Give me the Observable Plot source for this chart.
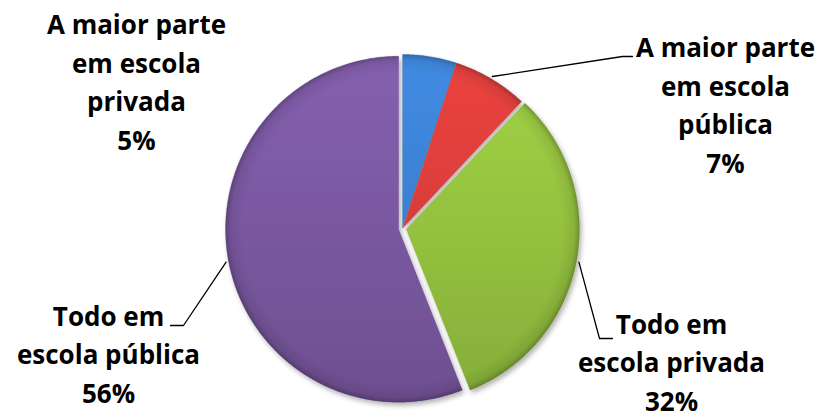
<!DOCTYPE html>
<html><head><meta charset="utf-8">
<script src="https://cdn.jsdelivr.net/npm/d3@7"></script>
<script src="https://cdn.jsdelivr.net/npm/@observablehq/plot@0.6"></script>
<style>body{margin:0;background:#fff}</style>
</head><body><div id="chart"></div>
<script>
// ---- data ----
const categories = ["A maior parte em escola privada", "A maior parte em escola pública", "Todo em escola privada", "Todo em escola pública"];
const labelLines = [["A maior parte", "em escola", "privada"], ["A maior parte", "em escola", "pública"], ["Todo em", "escola privada"], ["Todo em", "escola pública"]];
const values = [5, 7, 32, 56];
const colors = ["#3b7fd0", "#d83d3a", "#94c13f", "#7a58a0"];

// ---- layout (pixels) ----
const W = 825, H = 419, CX = 402, CY = 228, R = 173;
const explodePx = [1, 1, 4, 4];
const labelAnchorPx = [[136, 149], [725, 172], [671, 410], [108, 402]]; // centre x, last baseline
const leaderKneesPx = [null, [[622, 56], [632, 56]], [[599, 338], [612, 338]], [[183, 325], [170, 325]]];
const fontFamily = "'Open Sans', Lato, sans-serif";

const ux = px => (px - CX) / R, uy = py => (CY - py) / R;

const arcs = d3.pie().sort(null).value(d => d)(values);
const offs = arcs.map((a, i) => {
  const m = (a.startAngle + a.endAngle) / 2, e = explodePx[i] / R;
  return [Math.sin(m) * e, Math.cos(m) * e];
});

function slicePoints(i) {
  const a = arcs[i], [ox, oy] = offs[i];
  const pts = [{x: ox, y: oy}];
  const n = Math.max(2, Math.ceil((a.endAngle - a.startAngle) / (Math.PI / 360)));
  for (let k = 0; k <= n; k++) {
    const t = a.startAngle + (a.endAngle - a.startAngle) * k / n;
    pts.push({x: ox + Math.sin(t), y: oy + Math.cos(t)});
  }
  pts.push({x: ox, y: oy});
  return pts;
}

const labelData = categories.map((c, i) => ({
  x: ux(labelAnchorPx[i][0]), y: uy(labelAnchorPx[i][1]),
  text: labelLines[i].join("\n") + "\n" + values[i] + "%"
}));

const leaderData = [];
arcs.forEach((a, i) => {
  if (!leaderKneesPx[i]) return;
  const m = (a.startAngle + a.endAngle) / 2, [ox, oy] = offs[i];
  leaderData.push({k: i, x: ox + Math.sin(m) * 1.015, y: oy + Math.cos(m) * 1.015});
  leaderKneesPx[i].forEach(([px, py]) => leaderData.push({k: i, x: ux(px), y: uy(py)}));
});

function shade(c, k) { return d3.color(c)[k > 0 ? "brighter" : "darker"](Math.abs(k)).formatHex(); }

const defsMark = (index, scales) => {
  const defs = d3.create("svg:defs");
  colors.forEach((c, i) => {
    const g = defs.append("linearGradient").attr("id", "grad" + i)
      .attr("gradientUnits", "userSpaceOnUse")
      .attr("y1", scales.y(1)).attr("y2", scales.y(-1)).attr("x1", 0).attr("x2", 0);
    g.append("stop").attr("offset", 0).attr("stop-color", shade(c, 0.25));
    g.append("stop").attr("offset", 0.5).attr("stop-color", c);
    g.append("stop").attr("offset", 1).attr("stop-color", shade(c, -0.3));
    const cxp = scales.x(offs[i][0]), cyp = scales.y(offs[i][1]), rp = scales.x(1) - scales.x(0);
    const rg = defs.append("radialGradient").attr("id", "rim" + i).attr("gradientUnits", "userSpaceOnUse")
      .attr("cx", cxp).attr("cy", cyp).attr("r", rp);
    rg.append("stop").attr("offset", 0.9).attr("stop-color", "#000").attr("stop-opacity", 0);
    rg.append("stop").attr("offset", 0.97).attr("stop-color", "#000").attr("stop-opacity", 0.08);
    rg.append("stop").attr("offset", 1).attr("stop-color", "#000").attr("stop-opacity", 0.25);
  });
  const f = defs.append("filter").attr("id", "pieShadow").attr("x", "-10%").attr("y", "-10%").attr("width", "120%").attr("height", "120%");
  f.append("feDropShadow").attr("dx", 2).attr("dy", 3).attr("stdDeviation", 2.5).attr("flood-color", "#000").attr("flood-opacity", 0.3);
  return defs.node();
};

const sliceMarks = arcs.map((a, i) => Plot.line(slicePoints(i), {
  x: "x", y: "y", fill: `url(#grad${i})`, stroke: shade(colors[i], -0.5), strokeWidth: 0.6, strokeOpacity: 0.6, curve: "linear"
}));
const rimMarks = arcs.map((a, i) => Plot.line(slicePoints(i), {
  x: "x", y: "y", fill: `url(#rim${i})`, stroke: "none", curve: "linear"
}));

const plot = Plot.plot({
  width: W, height: H, margin: 0,
  style: {background: "#fff", overflow: "visible"},
  x: {domain: [ux(0), ux(W)], axis: null},
  y: {domain: [uy(H), uy(0)], axis: null},
  marks: [
    defsMark,
    ...sliceMarks,
    ...rimMarks,
    Plot.line(leaderData, {x: "x", y: "y", z: "k", stroke: "#000", strokeWidth: 1.3, curve: "linear"}),
    Plot.text(labelData, {x: "x", y: "y", text: "text", fontSize: 26, fontWeight: "bold", fontFamily,
      lineAnchor: "bottom", lineHeight: 1.48, textAnchor: "middle", fill: "#000"})
  ]
});

// group slices under a drop shadow
const groups = Array.from(plot.querySelectorAll('g[aria-label="line"]')).slice(0, 8);
const wrap = document.createElementNS("http://www.w3.org/2000/svg", "g");
wrap.setAttribute("filter", "url(#pieShadow)");
groups[0].parentNode.insertBefore(wrap, groups[0]);
groups.forEach(g => wrap.appendChild(g));

document.getElementById("chart").appendChild(plot);
</script>
</body></html>
